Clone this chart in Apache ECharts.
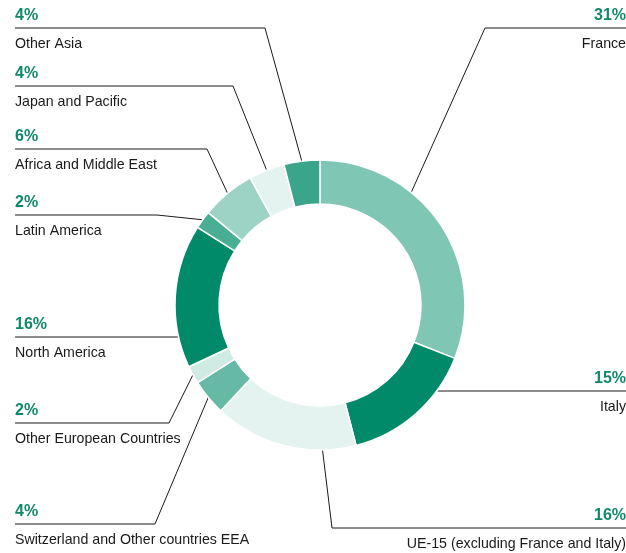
<!DOCTYPE html>
<html>
<head>
<meta charset="utf-8">
<script src="https://cdn.jsdelivr.net/npm/echarts@6/dist/echarts.min.js"></script>
<style>
html, body { margin: 0; padding: 0; background: #fff; }
#chart { width: 626px; height: 553px; }
</style>
</head>
<body>
<div id="chart"></div>
<script>
// data, clockwise from 12 o'clock
const regions = [
  "France",
  "Italy",
  "UE-15 (excluding France and Italy)",
  "Switzerland and Other countries EEA",
  "Other European Countries",
  "North America",
  "Latin America",
  "Africa and Middle East",
  "Japan and Pacific",
  "Other Asia"
];
const shares = [31, 15, 16, 4, 2, 16, 2, 6, 4, 4];
const sliceColors = ["#80c6b5", "#008a69", "#e4f3ef", "#66b9a4", "#d0ebe4", "#008a69", "#4aae94", "#9dd3c5", "#e4f3ef", "#3aa58b"];

// leader line layout (style only)
const leaders = [
  { side: "right", lineY: 28, bend: [485, 28], anchorDeg: 39 },
  { side: "right", lineY: 391, anchorDeg: 126 },
  { side: "right", lineY: 528, bend: [332, 528], anchorDeg: 179 },
  { side: "left", lineY: 524, bend: [155, 524] },
  { side: "left", lineY: 423, bend: [169, 423] },
  { side: "left", lineY: 337, anchorDeg: 257 },
  { side: "left", lineY: 215, bend: [157, 215] },
  { side: "left", lineY: 149, bend: [207, 149] },
  { side: "left", lineY: 86, bend: [233, 86] },
  { side: "left", lineY: 28, bend: [265, 28] }
];

const cx = 320, cy = 305, rIn = 101, rOut = 145;
const font = "'Liberation Sans Narrow', 'Arial Narrow', 'Liberation Sans', sans-serif";

const myChart = echarts.init(document.getElementById("chart"));

const option = {
  animation: false,
  series: [
    {
      type: "pie",
      center: [cx, cy],
      radius: [rIn, rOut],
      startAngle: 90,
      clockwise: true,
      avoidLabelOverlap: false,
      silent: true,
      data: regions.map((name, i) => ({
        name: name,
        value: shares[i],
        itemStyle: { color: sliceColors[i] }
      })),
      itemStyle: { borderColor: "#fff", borderWidth: 1.5 },
      label: {
        show: true,
        position: "outside",
        formatter: "{p|{c}%}\n{n|{b}}",
        fontFamily: font,
        rich: {
          p: { fontFamily: font, fontWeight: "bold", fontSize: 16, color: "#10896a", lineHeight: 32 },
          n: { fontFamily: font, fontSize: 14.2, color: "#1a1a1a", lineHeight: 24 }
        }
      },
      labelLine: {
        show: true,
        smooth: false,
        lineStyle: { color: "#1a1a1a", width: 1 }
      },
      labelLayout: function (params) {
        const l = leaders[params.dataIndex];
        let anchor = params.labelLinePoints ? params.labelLinePoints[0] : [cx, cy];
        if (l.anchorDeg != null) {
          const a = l.anchorDeg * Math.PI / 180;
          anchor = [cx + rOut * Math.sin(a), cy - rOut * Math.cos(a)];
        }
        const endX = l.side === "left" ? 15 : 626;
        const bend = l.bend || [anchor[0], l.lineY];
        return {
          x: endX,
          y: l.lineY,
          align: l.side,
          verticalAlign: "middle",
          labelLinePoints: [anchor, bend, [endX, l.lineY]]
        };
      }
    }
  ]
};

myChart.setOption(option);
window.onresize = function () {
  myChart.resize();
};
</script>
</body>
</html>
